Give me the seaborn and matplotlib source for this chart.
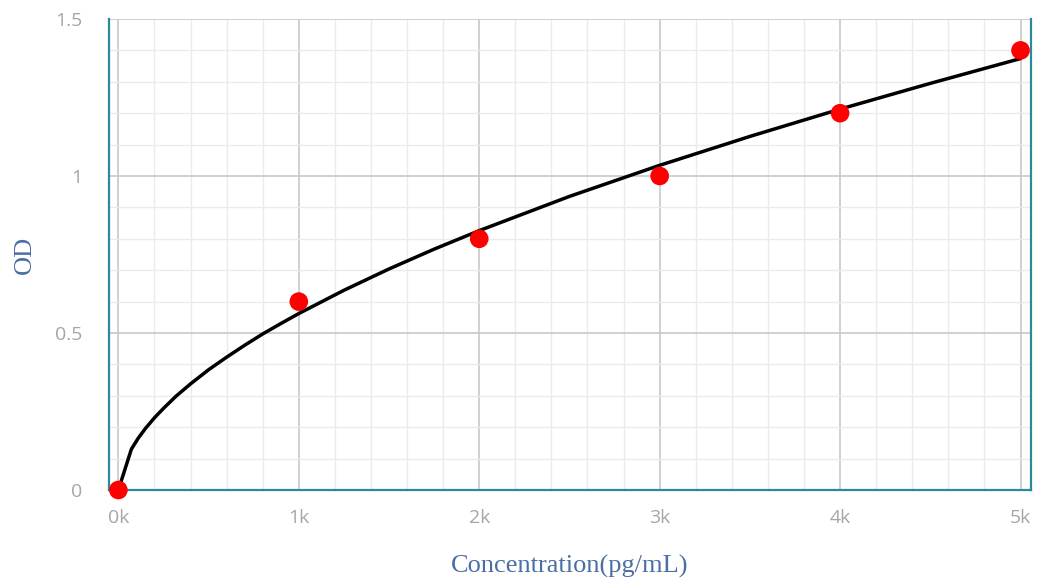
import numpy as np
import pandas as pd
import seaborn as sns
import matplotlib.pyplot as plt
from matplotlib.ticker import MultipleLocator, FuncFormatter


sns.set_theme(style="white")

# -----------------------------------
# Data
# -----------------------------------

# Standard points
conc = [0, 1000, 2000, 3000, 4000, 5000]
od = [0.0, 0.6, 0.8, 1.0, 1.2, 1.4]

# Fitted curve
curve_x = [0, 72, 110, 150, 200, 250, 320, 400, 500, 600, 700, 800, 900,
           1000, 1250, 1500, 1750, 2000, 2500, 3000, 3500, 4000, 4500, 5000]
curve_y = [0.0, 0.130, 0.165, 0.196, 0.230, 0.260, 0.299, 0.338, 0.383,
           0.423, 0.461, 0.497, 0.530, 0.562, 0.636, 0.704, 0.767, 0.826,
           0.935, 1.034, 1.126, 1.213, 1.295, 1.374]

x_ticks = [0, 1000, 2000, 3000, 4000, 5000]
y_ticks = [0, 0.5, 1, 1.5]

points = pd.DataFrame({"conc": conc, "od": od})
curve = pd.DataFrame({"x": curve_x, "y": curve_y})

SPINE = "#2a8a9c"
LABEL = "#4a6fa5"
TICK = "#a6a6a6"

# -----------------------------------
# Figure
# -----------------------------------

fig = plt.figure(figsize=(10.39, 5.79), dpi=100)
ax = fig.add_axes([0.1049, 0.1537, 0.8874, 0.8135])

ax.set_xlim(-52, 5058)
ax.set_ylim(0, 1.5)

# Grid
ax.xaxis.set_major_locator(MultipleLocator(1000))
ax.xaxis.set_minor_locator(MultipleLocator(200))
ax.yaxis.set_major_locator(MultipleLocator(0.5))
ax.yaxis.set_minor_locator(MultipleLocator(0.1))
ax.grid(which="major", color="#c8c8c8", linewidth=1.2)
ax.grid(which="minor", color="#ebebeb", linewidth=1.0)
ax.set_axisbelow(True)

# Curve and points
sns.lineplot(
    data=curve, x="x", y="y",
    color="black", linewidth=2.5,
    ax=ax, zorder=3
)

sns.scatterplot(
    data=points, x="conc", y="od",
    color="#ff0000", s=180, edgecolor="none",
    ax=ax, zorder=4, clip_on=False
)

# Spines
for side in ["left", "bottom", "right"]:
    ax.spines[side].set_color(SPINE)
    ax.spines[side].set_linewidth(1.6)
ax.spines["top"].set_visible(False)

# Ticks
ax.set_xticks(x_ticks)
ax.set_yticks(y_ticks)
ax.xaxis.set_major_formatter(FuncFormatter(lambda v, p: f"{int(v / 1000)}k"))
ax.yaxis.set_major_formatter(FuncFormatter(lambda v, p: f"{v:g}"))

ax.tick_params(axis="x", which="major", length=10, width=1,
               color="#b8d4ea", direction="out", pad=4,
               labelsize=14, labelcolor=TICK)
ax.tick_params(axis="y", which="major", length=0, pad=19,
               labelsize=14, labelcolor=TICK)
ax.tick_params(which="minor", length=0)

for lab in ax.get_xticklabels() + ax.get_yticklabels():
    lab.set_family("Open Sans")

# Labels
ax.set_xlabel("Concentration(pg/mL)", fontsize=19, color=LABEL,
              family="Liberation Serif", labelpad=20)
ax.set_ylabel("OD", fontsize=19, color=LABEL,
              family="Liberation Serif", labelpad=14)

fig.savefig("out.png", dpi=100)
plt.close(fig)
